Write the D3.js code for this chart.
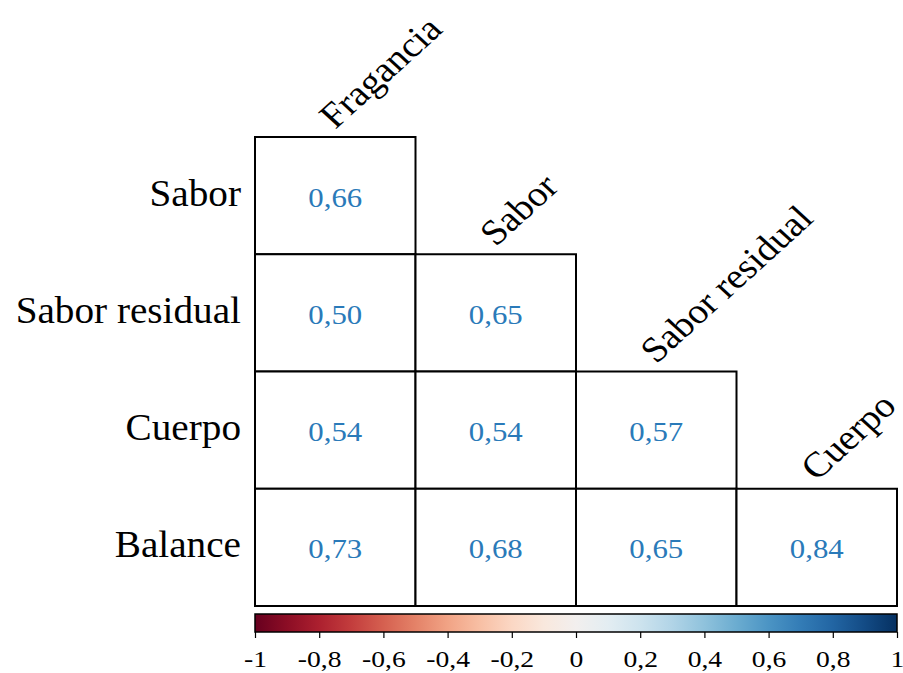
<!DOCTYPE html>
<html>
<head>
<meta charset="utf-8">
<script src="https://cdn.jsdelivr.net/npm/d3@7/dist/d3.min.js"></script>
<style>
  html, body { margin: 0; padding: 0; background: #fff; }
  svg { display: block; }
  text { font-family: "Liberation Serif", "Times New Roman", serif; }
</style>
</head>
<body>
<svg id="chart" width="903" height="673"></svg>
<script>
// Correlation matrix (lower triangle) of coffee cupping attributes
const rowLabels = ["Sabor", "Sabor residual", "Cuerpo", "Balance"];
const colLabels = ["Fragancia", "Sabor", "Sabor residual", "Cuerpo"];
const valSabor = [0.66];
const valSaborResidual = [0.50, 0.65];
const valCuerpo = [0.54, 0.54, 0.57];
const valBalance = [0.73, 0.68, 0.65, 0.84];
const rowValues = [valSabor, valSaborResidual, valCuerpo, valBalance];

// Colour bar ticks
const barTicks = [-1, -0.8, -0.6, -0.4, -0.2, 0, 0.2, 0.4, 0.6, 0.8, 1];
const barTickLabels = ["-1", "-0,8", "-0,6", "-0,4", "-0,2", "0", "0,2", "0,4", "0,6", "0,8", "1"];

// Text in this figure is set slightly wide
const WIDE = 1.1;

const svg = d3.select("#chart");

const x = d3.scaleBand().domain(colLabels.map((d, i) => i)).range([255, 897]);
const y = d3.scaleBand().domain(rowLabels).range([137, 606]);

const cells = [];
rowValues.forEach((vals, r) => {
  vals.forEach((v, c) => cells.push({ row: rowLabels[r], col: c, value: v }));
});

const fmt = v => d3.format(".2f")(v).replace(".", ",");

// Cells
svg.append("g").selectAll("rect")
  .data(cells)
  .join("rect")
  .attr("x", d => x(d.col))
  .attr("y", d => y(d.row))
  .attr("width", x.bandwidth())
  .attr("height", y.bandwidth())
  .attr("fill", "#fff")
  .attr("stroke", "#000")
  .attr("stroke-width", 2);

// Coefficients
svg.append("g").selectAll("g")
  .data(cells)
  .join("g")
  .attr("transform", d =>
    `translate(${x(d.col) + x.bandwidth() / 2},${y(d.row) + y.bandwidth() / 2 + 11}) scale(${WIDE},1)`)
  .append("text")
  .attr("text-anchor", "middle")
  .attr("font-size", 28)
  .attr("fill", "#2a7ab9")
  .text(d => fmt(d.value));

// Row labels
svg.append("g").selectAll("g")
  .data(rowLabels)
  .join("g")
  .attr("transform", d => `translate(241,${y(d) + y.bandwidth() / 2 + 10}) scale(1.06,1)`)
  .append("text")
  .attr("text-anchor", "end")
  .attr("font-size", 37)
  .attr("fill", "#000")
  .text(d => d);

// Column labels, rotated above the top cell of each column
svg.append("g").selectAll("text")
  .data(colLabels)
  .join("text")
  .attr("transform", (d, i) => {
    const cx = x(i) + x.bandwidth() / 2;
    const cy = y(rowLabels[i]) - 7;
    return `translate(${cx},${cy}) scale(${WIDE},1) rotate(-45)`;
  })
  .attr("font-size", 35.5)
  .attr("fill", "#000")
  .text(d => d);

// Colour bar
const bx = d3.scaleLinear().domain([-1, 1]).range([255, 897]);
const barTop = 614, barH = 18;
const defs = svg.append("defs");
const grad = defs.append("linearGradient").attr("id", "rdbu").attr("x1", "0%").attr("x2", "100%");
d3.range(0, 1.0001, 0.05).forEach(t => {
  grad.append("stop").attr("offset", (t * 100) + "%").attr("stop-color", d3.interpolateRdBu(t));
});
svg.append("rect")
  .attr("x", bx(-1)).attr("y", barTop)
  .attr("width", bx(1) - bx(-1)).attr("height", barH)
  .attr("fill", "url(#rdbu)")
  .attr("stroke", "#000").attr("stroke-width", 1.5);

const axis = d3.axisBottom(bx)
  .tickValues(barTicks)
  .tickSize(6)
  .tickFormat((d, i) => barTickLabels[i]);
const ag = svg.append("g").attr("transform", `translate(0,${barTop + barH})`).call(axis);
ag.select(".domain").remove();
ag.selectAll(".tick line").attr("stroke", "#000").attr("stroke-width", 1.2);
ag.selectAll(".tick text")
  .attr("font-family", "Liberation Serif, serif")
  .attr("font-size", 24)
  .attr("fill", "#000")
  .attr("dy", "0")
  .attr("y", 0)
  .attr("transform", "translate(0,35) scale(1.15,1)");
</script>
</body>
</html>
